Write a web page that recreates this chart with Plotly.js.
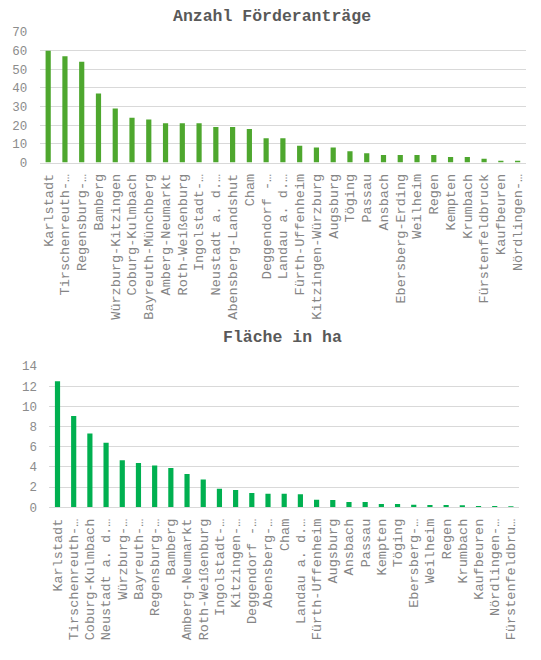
<!DOCTYPE html>
<html>
<head>
<meta charset="utf-8">
<script src="https://cdn.plot.ly/plotly-3.0.1.min.js"></script>
<style>html,body{margin:0;padding:0;background:#fff;}#chart{width:541px;height:660px;}</style>
</head>
<body>
<div id="chart"></div>
<script>
const titleTop = "Anzahl Förderanträge";
const titleBottom = "Fläche in ha";

const categoriesTop = ["Karlstadt","Tirschenreuth-…","Regensburg-…","Bamberg","Würzburg-Kitzingen","Coburg-Kulmbach","Bayreuth-Münchberg","Amberg-Neumarkt","Roth-Weißenburg","Ingolstadt-…","Neustadt a. d.…","Abensberg-Landshut","Cham","Deggendorf -…","Landau a. d.…","Fürth-Uffenheim","Kitzingen-Würzburg","Augsburg","Töging","Passau","Ansbach","Ebersberg-Erding","Weilheim","Regen","Kempten","Krumbach","Fürstenfeldbruck","Kaufbeuren","Nördlingen-…"];
const valuesTop = [60,57,54,37,29,24,23,21,21,21,19,19,18,13,13,9,8,8,6,5,4,4,4,4,3,3,2,1,1];

const categoriesBottom = ["Karlstadt","Tirschenreuth-…","Coburg-Kulmbach","Neustadt a. d.…","Würzburg-…","Bayreuth-…","Regensburg-…","Bamberg","Amberg-Neumarkt","Roth-Weißenburg","Ingolstadt-…","Kitzingen-…","Deggendorf -…","Abensberg-…","Cham","Landau a. d.…","Fürth-Uffenheim","Augsburg","Ansbach","Passau","Kempten","Töging","Ebersberg-…","Weilheim","Regen","Krumbach","Kaufbeuren","Nördlingen-…","Fürstenfeldbru…"];
const valuesBottom = [12.5,9.05,7.3,6.4,4.65,4.4,4.15,3.9,3.3,2.75,1.85,1.72,1.42,1.35,1.35,1.3,0.75,0.72,0.53,0.53,0.33,0.33,0.26,0.23,0.23,0.2,0.13,0.12,0.1];

const yTicksTop = [0,10,20,30,40,50,60,70];
const yTicksBottom = [0,2,4,6,8,10,12,14];

const W = 541, H = 660;
const FONT = "Liberation Mono, Courier New, monospace";

const traces = [
  {type:"bar", x:categoriesTop, y:valuesTop, xaxis:"x", yaxis:"y",
   marker:{color:"#4EA72E"}, width:0.31, hoverinfo:"none"},
  {type:"bar", x:categoriesBottom, y:valuesBottom, xaxis:"x2", yaxis:"y2",
   marker:{color:"#00B050"}, width:0.32, hoverinfo:"none"}
];

const xCommon = {type:"category", tickangle:-90, ticks:"outside", ticklen:5, tickcolor:"rgba(0,0,0,0)",
  showgrid:false, showline:true, linecolor:"#d9d9d9", linewidth:1, zeroline:false,
  tickfont:{family:FONT, size:13.5, color:"#858585"}, automargin:false, fixedrange:true};
const yCommon = {showgrid:true, gridcolor:"#d9d9d9", gridwidth:1, zeroline:false,
  showline:false, ticks:"outside", ticklen:9, tickcolor:"rgba(0,0,0,0)",
  tickfont:{family:FONT, size:12.5, color:"#8c8c8c"}, automargin:false, fixedrange:true};

const layout = {
  width:W, height:H, margin:{l:0,r:0,t:0,b:0},
  paper_bgcolor:"#fff", plot_bgcolor:"#fff", showlegend:false,
  font:{family:FONT},
  xaxis:Object.assign({}, xCommon, {domain:[39.8/W, 526/W], anchor:"y"}),
  yaxis:Object.assign({}, yCommon, {domain:[(H-162.5)/H, (H-32)/H], range:[0,70], tickvals:yTicksTop, anchor:"x"}),
  xaxis2:Object.assign({}, xCommon, {domain:[49.4/W, 519/W], anchor:"y2"}),
  yaxis2:Object.assign({}, yCommon, {domain:[(H-507.3)/H, (H-366)/H], range:[0,14], tickvals:yTicksBottom, anchor:"x2"}),
  annotations:[
    {text:titleTop, xref:"paper", yref:"paper", x:272/W, y:1-16/H, showarrow:false,
     xanchor:"center", yanchor:"middle", font:{family:FONT, size:16.5, color:"#595959", weight:"bold"}},
    {text:titleBottom, xref:"paper", yref:"paper", x:282/W, y:1-337/H, showarrow:false,
     xanchor:"center", yanchor:"middle", font:{family:FONT, size:16.5, color:"#595959", weight:"bold"}}
  ]
};

Plotly.newPlot("chart", traces, layout, {staticPlot:true, displayModeBar:false});
</script>
</body>
</html>
